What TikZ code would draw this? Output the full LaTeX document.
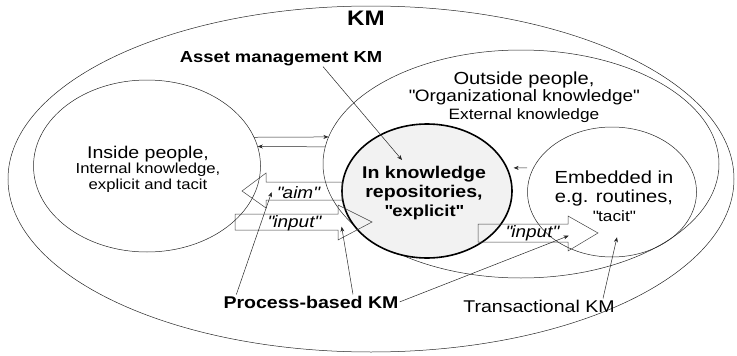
\documentclass[tikz,border=0pt]{standalone}
\usepackage{fontspec}
\setmainfont{Liberation Sans}[FakeStretch=1.15]
\usetikzlibrary{shapes.geometric,arrows.meta}
\newcommand{\qq}[1]{\textquotedbl#1\textquotedbl}

\begin{document}
\begin{tikzpicture}[x=1pt, y=-1pt, >={Stealth[length=5pt,width=4pt]},
  ring/.style={draw=black!85, ellipse, inner sep=0pt, line width=0.5pt},
  lbl/.style={inner sep=1pt, anchor=base},
  txt/.style={align=center, inner sep=0pt},
  blockarrow/.style={draw=black!75, line width=0.5pt, line join=miter},
  thin/.style={->, draw=black!85, line width=0.5pt}]
\useasboundingbox (0,0) rectangle (737,356);

\node[ring, minimum width=726pt, minimum height=346pt] (km) at (371,179) {};
\node[ring, minimum width=227pt, minimum height=172pt] (inside) at (147,166) {};
\node[ring, minimum width=396pt, minimum height=228pt] (outside) at (521,164) {};
\node[ring, minimum width=169pt, minimum height=130pt] (embedded) at (612,192) {};
\node[ring, draw=black, fill=gray!10, line width=1.6pt, minimum width=170pt, minimum height=134pt] (repo) at (427,191) {};

\node[lbl, font=\bfseries\fontsize{21}{24}\selectfont] (kmlabel) at (366,25) {KM};
\node[lbl, font=\bfseries\fontsize{16}{18}\selectfont] (asset) at (281,62) {Asset management KM};
\node[txt, font=\fontsize{14.5}{15.5}\selectfont] (insidetxt) at (148,169)
  {{\fontsize{17}{15.5}\selectfont Inside people,}\\ Internal knowledge,\\ explicit and tacit};
\node[txt, font=\fontsize{15}{17.5}\selectfont] (outsidetxt) at (524,97)
  {{\fontsize{17.5}{17.5}\selectfont Outside people,}\\ {\fontsize{16.5}{17.5}\selectfont \qq{Organizational knowledge}}\\ External knowledge};
\node[txt, font=\bfseries\fontsize{17}{19}\selectfont] (repotxt) at (424,193)
  {In knowledge\\ repositories,\\ {\fontsize{16}{19}\selectfont \qq{explicit}}};
\node[txt, font=\fontsize{17.5}{19}\selectfont] (embeddedtxt) at (614,196)
  {Embedded in\\ e.g. routines,\\ {\fontsize{15}{19}\selectfont \qq{tacit}}};

\draw[blockarrow] (342,182) -- (266,182) -- (266,173) -- (242,191) -- (266,208) -- (266,200) -- (342,200) -- cycle;
\draw[blockarrow] (338,214) -- (235,214) -- (235,230) -- (338,230) -- (338,240) -- (372,222) -- (338,205) -- cycle;
\draw[blockarrow] (568,224) -- (478,224) -- (478,242) -- (568,242) -- (568,251) -- (598,233) -- (568,216) -- cycle;

\node[lbl, font=\itshape\fontsize{16.5}{18}\selectfont] (aim) at (298,198) {\qq{aim}};
\node[lbl, font=\itshape\fontsize{16.5}{18}\selectfont] (inputL) at (294,227) {\qq{input}};
\node[lbl, font=\itshape\fontsize{16.5}{18}\selectfont] (inputR) at (532,237) {\qq{input}};

\node[lbl, font=\bfseries\fontsize{17}{18}\selectfont] (process) at (311,308) {Process-based KM};
\node[lbl, font=\fontsize{17}{18}\selectfont] (trans) at (539,312) {Transactional KM};

\draw[thin] (inside.15) -- (outside.172);
\draw[thin] (outside.175) -- (inside.10);
\draw[thin, shorten <=6pt, shorten >=6pt] (embedded.163) -- (repo.16);

\draw[thin] ([xshift=42pt]asset.south) -- ([xshift=-25pt,yshift=31pt]repo.center);
\draw[thin] ([xshift=14pt]process.north west) -- ([xshift=-4pt]aim.west);
\draw[thin] ([xshift=42pt]process.north) -- ([xshift=20pt,yshift=-4pt]inputL.east);
\draw[thin] (process.east) -- ([xshift=9pt,yshift=-3pt]inputR.east);
\draw[thin] ([xshift=64pt]trans.north) -- ([xshift=5pt,yshift=20pt]embedded.south);
\end{tikzpicture}
\end{document}
